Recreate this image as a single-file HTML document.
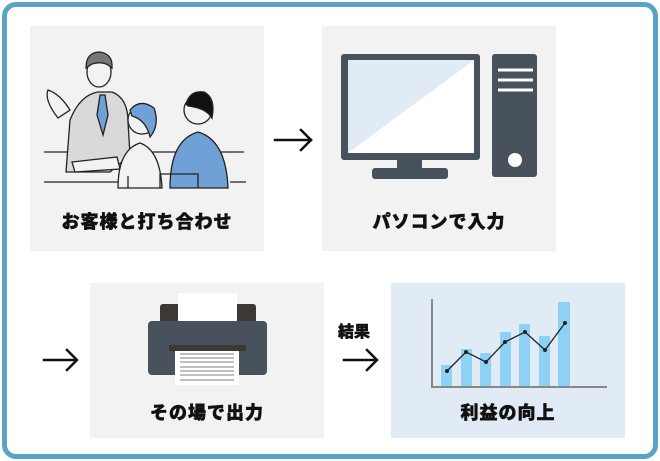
<!DOCTYPE html>
<html><head><meta charset="utf-8"><style>
body{margin:0;width:660px;height:461px;background:#fff;overflow:hidden;position:relative;font-family:"Liberation Sans","Noto Sans CJK JP",sans-serif}
.frame{position:absolute;left:2px;top:2px;width:646px;height:447px;border:5px solid #5ba3c4;border-radius:14px}
.p{position:absolute;background:#f2f2f2}
.t{position:absolute;left:0;right:0;text-align:center;font-weight:900;font-size:18px;letter-spacing:1px;color:#111;-webkit-text-stroke:0.5px #111}
svg{position:absolute;left:0;top:0}
</style></head><body>
<div class="frame"></div>
<div class="p" style="left:30px;top:26px;width:234px;height:225px"><div class="t" style="top:182px">お客様と打ち合わせ</div></div>
<div class="p" style="left:322px;top:26px;width:234px;height:225px"><div class="t" style="top:182px">パソコンで入力</div></div>
<div class="p" style="left:90px;top:283px;width:234px;height:155px"><div class="t" style="top:116px">その場で出力</div></div>
<div class="p" style="left:391px;top:283px;width:234px;height:155px;background:#e1ebf6"><div class="t" style="top:116px">利益の向上</div></div>
<div style="position:absolute;left:338px;top:318px;font-weight:900;font-size:16px;color:#111;-webkit-text-stroke:0.4px #111">結果</div>
<svg width="660" height="461" viewBox="0 0 660 461">
<g fill="none" stroke="#111" stroke-width="2.5" stroke-linecap="square">
<path d="M275 140h36M301 130l10 10-10 10"/>
<path d="M44 360h32M67 350l10 10-10 10"/>
<path d="M344 360h32M367 350l10 10-10 10"/>
</g>
<!-- people -->
<g stroke="#222" stroke-width="1.3" fill="none">
<path d="M44 152h200M44 182h80M230 182h16"/>
<path d="M66 172 L70 120 Q80 95 98 92 L112 92 Q128 98 128 122 L130 155 L110 172 Z" fill="#d9d9d9"/>
<path d="M100 95 l-3 20 l6 20 l5-20 l-3-20z" fill="#6fa0d6"/>
<ellipse cx="99" cy="72" rx="12" ry="15" fill="#f2f2f2"/>
<path d="M86 68 Q86 52 100 52 Q113 54 112 68 Q104 60 92 64 Z" fill="#777"/>
<path d="M58 118 Q44 100 48 90 Q60 94 70 110 Z" fill="#f2f2f2"/>
<path d="M72 162 l45-5 l3 12 l-45 3z" fill="#f2f2f2"/>
<path d="M118 188 Q118 150 140 143 Q160 150 162 188Z" fill="#f2f2f2"/>
<circle cx="142" cy="120" r="14" fill="#f2f2f2"/>
<path d="M130 110 Q140 98 154 108 Q160 125 150 137 Q146 120 132 116Z" fill="#6fa0d6"/>
<path d="M170 188 Q170 140 198 132 Q226 140 228 188Z" fill="#6fa0d6"/>
<circle cx="198" cy="110" r="14" fill="#f2f2f2"/>
<path d="M186 104 Q190 90 204 92 Q216 98 212 118 Q206 108 188 106Z" fill="#111"/>
<path d="M160 188v-14h38v14M128 188v-12" />
</g>
<!-- computer -->
<rect x="341" y="54" width="139" height="106" rx="3" fill="#47525d"/>
<path d="M348 60h126v93h-126z" fill="#fff"/>
<path d="M348 60h126l-126 93z" fill="#e1ebf6"/>
<rect x="397" y="160" width="25" height="10" fill="#47525d"/>
<rect x="372" y="168" width="76" height="11" rx="3" fill="#47525d"/>
<rect x="492" y="54" width="45" height="123" rx="3" fill="#47525d"/>
<g stroke="#fff" stroke-width="3"><path d="M498 70h35M498 80h35M498 90h35"/></g>
<circle cx="515" cy="160" r="7" fill="#fff"/>
<!-- printer -->
<rect x="160" y="304" width="96" height="20" rx="3" fill="#3c3835"/>
<rect x="178" y="293" width="59" height="35" fill="#fff"/>
<rect x="148" y="321" width="119" height="54" rx="4" fill="#47525d"/>
<rect x="169" y="345" width="77" height="6" fill="#3c3835"/>
<rect x="175" y="351" width="64" height="34" fill="#fff"/>
<g stroke="#999" stroke-width="1.2"><path d="M180 354h54M180 358h54M180 362h54M180 367h54M180 371h54M180 375h54M180 380h54"/></g>
<!-- chart -->
<g fill="#8dd1f5">
<rect x="441" y="365" width="11" height="21"/><rect x="461" y="349" width="11" height="37"/>
<rect x="480" y="353" width="11" height="33"/><rect x="500" y="332" width="11" height="54"/>
<rect x="519" y="324" width="11" height="62"/><rect x="539" y="336" width="11" height="50"/>
<rect x="558" y="302" width="12" height="84"/>
</g>
<path d="M432 299v88h175" fill="none" stroke="#888" stroke-width="2"/>
<polyline points="447,371 466,352 486,362 505,342 525,332 545,350 565,323" fill="none" stroke="#222" stroke-width="1.3"/>
<g fill="#222"><circle cx="447" cy="371" r="2"/><circle cx="466" cy="352" r="2"/><circle cx="486" cy="362" r="2"/><circle cx="505" cy="342" r="2"/><circle cx="525" cy="332" r="2"/><circle cx="545" cy="350" r="2"/><circle cx="565" cy="323" r="2"/></g>
</svg>
</body></html>
